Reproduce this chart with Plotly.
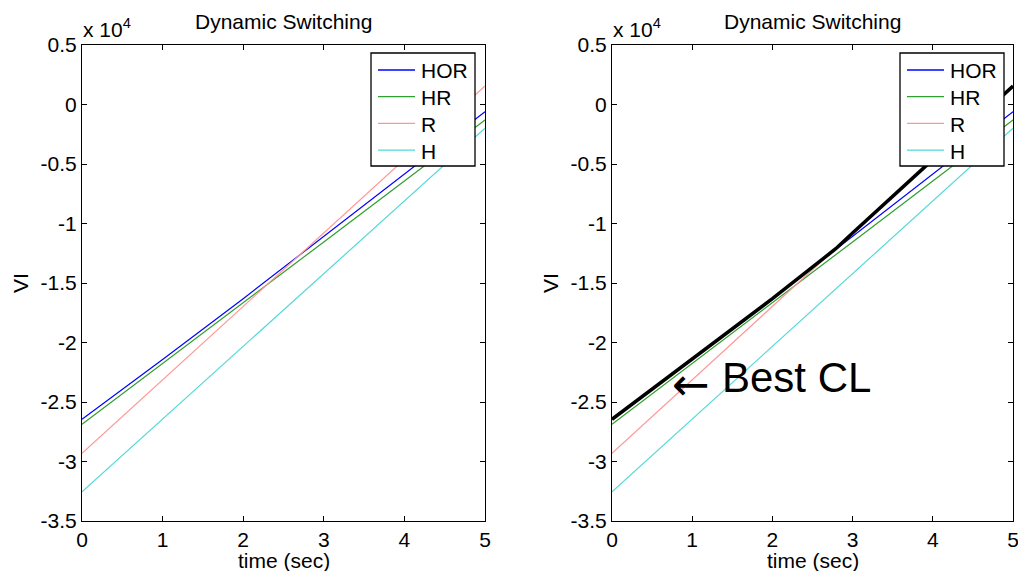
import plotly.graph_objects as go

# Time samples (sec) and closed-loop VI values for each switching scheme
time_sec = [0, 1, 2, 3, 4, 5]
vi_hor = [-26450, -21430, -16320, -11080, -5850, -600]
vi_hr = [-26870, -21780, -16670, -11550, -6430, -1300]
vi_r = [-29310, -23140, -16970, -10800, -4630, 1550]
vi_h = [-32540, -26430, -20320, -14210, -8100, -2000]

# Upper envelope (best closed loop): HOR until the crossing with R, then R
best_t = [0, 1, 2, 2.79, 3, 4, 5]
best_vi = [-26450, -21430, -16320, -12120, -10800, -4630, 1550]

series_names = ["HOR", "HR", "R", "H"]
series_colors = ["#0000ff", "#2f9f2f", "#ff9696", "#55d8d8"]
series_values = [vi_hor, vi_hr, vi_r, vi_h]

y_tick_vals = [5000, 0, -5000, -10000, -15000, -20000, -25000, -30000, -35000]
y_tick_text = ["0.5", "0", "-0.5", "-1", "-1.5", "-2", "-2.5", "-3", "-3.5"]
x_tick_vals = [0, 1, 2, 3, 4, 5]

W, H = 1018, 571
FONT = "Liberation Sans, Arial, sans-serif"
FS = 21

# panel geometry in pixels
panels = [(82, 485), (612, 1013)]
legend_left = [371, 900]
top_px, bot_px = 45, 521

fig = go.Figure()

for p in range(2):
    xa = "x" if p == 0 else "x2"
    ya = "y" if p == 0 else "y2"
    for name, color, vals in zip(series_names, series_colors, series_values):
        fig.add_trace(go.Scatter(
            x=time_sec, y=vals, mode="lines", name=name,
            line=dict(color=color, width=1.2),
            xaxis=xa, yaxis=ya, showlegend=False,
        ))

fig.add_trace(go.Scatter(
    x=best_t, y=best_vi, mode="lines", name="Best CL",
    line=dict(color="black", width=3.5),
    xaxis="x2", yaxis="y2", showlegend=False,
))

ydom = [1 - bot_px / H, 1 - top_px / H]


def px_x(v):
    return v / W


def px_y(v):
    return 1 - v / H


def xaxis_cfg(x0, x1, anchor):
    return dict(
        domain=[px_x(x0), px_x(x1)], range=[0, 5], anchor=anchor,
        tickvals=x_tick_vals, ticks="inside", ticklen=5, tickcolor="black",
        showline=True, linecolor="black", linewidth=1, mirror="ticks",
        showgrid=False, zeroline=False, automargin=False,
        ticklabeloverflow="allow",
        tickfont=dict(family=FONT, size=FS, color="black"),
    )


def yaxis_cfg(anchor):
    return dict(
        domain=ydom, range=[-35000, 5000], anchor=anchor,
        tickvals=y_tick_vals, ticktext=y_tick_text,
        ticks="inside", ticklen=5, tickcolor="black",
        showline=True, linecolor="black", linewidth=1, mirror="ticks",
        showgrid=False, zeroline=False, automargin=False,
        ticklabeloverflow="allow",
        tickfont=dict(family=FONT, size=FS, color="black"),
    )


annotations = []
shapes = []
for (x0, x1), lx in zip(panels, legend_left):
    cx = px_x((x0 + x1) / 2)
    annotations += [
        dict(text="Dynamic Switching", x=cx, y=px_y(22), xref="paper", yref="paper",
             xanchor="center", yanchor="middle", showarrow=False,
             font=dict(family=FONT, size=FS, color="black")),
        dict(text="x 10<sup>4</sup>", x=px_x(x0 - 1), y=px_y(43), xref="paper", yref="paper",
             xanchor="left", yanchor="bottom", showarrow=False,
             font=dict(family=FONT, size=FS, color="black")),
        dict(text="time (sec)", x=cx, y=px_y(560), xref="paper", yref="paper",
             xanchor="center", yanchor="middle", showarrow=False,
             font=dict(family=FONT, size=FS, color="black")),
        dict(text="VI", x=px_x(x0 - 62), y=px_y(283), xref="paper", yref="paper",
             xanchor="center", yanchor="middle", showarrow=False, textangle=-90,
             font=dict(family=FONT, size=FS, color="black")),
    ]
    # legend box with line samples and labels
    shapes.append(dict(type="rect", xref="paper", yref="paper",
                       x0=px_x(lx), x1=px_x(lx + 104), y0=px_y(53), y1=px_y(166),
                       line=dict(color="black", width=1.3), fillcolor="white"))
    for i, (name, color) in enumerate(zip(series_names, series_colors)):
        yy = 70 + i * 26.7
        shapes.append(dict(type="line", xref="paper", yref="paper",
                           x0=px_x(lx + 7), x1=px_x(lx + 44), y0=px_y(yy), y1=px_y(yy),
                           line=dict(color=color, width=1.3)))
        annotations.append(dict(text=name, x=px_x(lx + 48), y=px_y(yy + 1),
                                xref="paper", yref="paper", xanchor="left",
                                yanchor="middle", showarrow=False,
                                font=dict(family=FONT, size=FS, color="black")))

# "Best CL" label with a left arrow pointing at the thick curve
annotations.append(dict(
    text="\u2190", x=0.985, y=-23500, xref="x2", yref="y2",
    xanchor="center", yanchor="middle", showarrow=False,
    font=dict(family="DejaVu Sans", size=45, color="black"),
))
annotations.append(dict(
    text="Best CL", x=1.35, y=-22940, xref="x2", yref="y2",
    xanchor="left", yanchor="middle", showarrow=False,
    font=dict(family=FONT, size=42, color="black"),
))

fig.update_layout(
    width=W, height=H,
    margin=dict(l=0, r=0, t=0, b=0, autoexpand=False),
    paper_bgcolor="white", plot_bgcolor="white",
    xaxis=xaxis_cfg(*panels[0], "y"),
    yaxis=yaxis_cfg("x"),
    xaxis2=xaxis_cfg(*panels[1], "y2"),
    yaxis2=yaxis_cfg("x2"),
    showlegend=False,
    shapes=shapes,
    annotations=annotations,
    font=dict(family=FONT, size=FS, color="black"),
)

fig.write_html("out.html")
